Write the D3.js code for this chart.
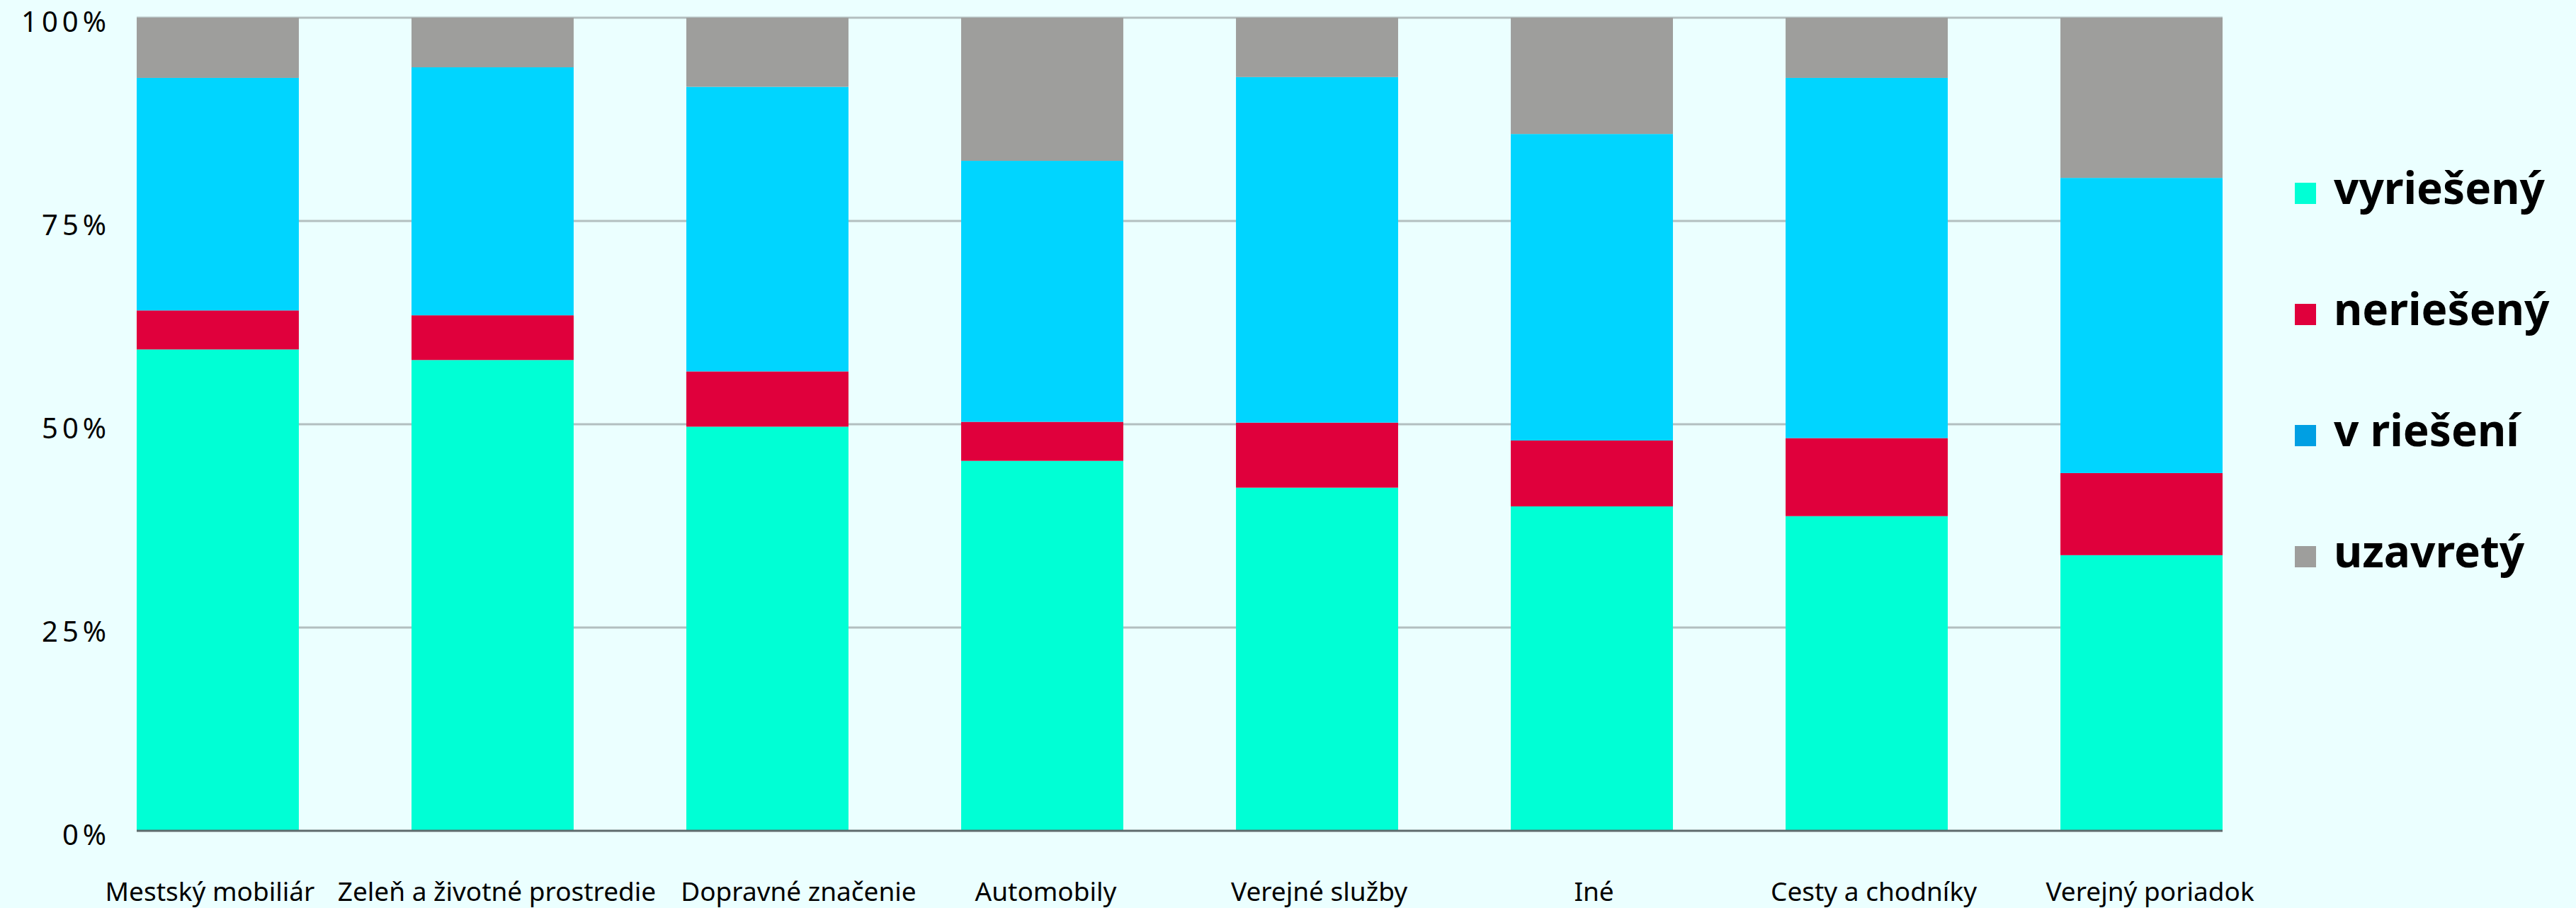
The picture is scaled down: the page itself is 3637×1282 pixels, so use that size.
<!DOCTYPE html>
<html>
<head>
<meta charset="utf-8">
<script src="https://cdn.jsdelivr.net/npm/d3@7"></script>
<style>
  body { margin: 0; background: #ebffff; }
  text { font-family: "Noto Sans", sans-serif; fill: #000; }
</style>
</head>
<body>
<div id="chart"></div>
<script>
// categories and series (percent of each category)
var categories = ["Mestský mobiliár", "Zeleň a životné prostredie", "Dopravné značenie", "Automobily",
                  "Verejné služby", "Iné", "Cesty a chodníky", "Verejný poriadok"];
var vyrieseny = [59.2, 57.9, 49.7, 45.5, 42.2, 39.9, 38.7, 33.9];
var nerieseny = [4.8, 5.5, 6.8, 4.8, 8.0, 8.1, 9.6, 10.1];
var vRieseni  = [28.6, 30.5, 35.0, 32.1, 42.5, 37.7, 44.3, 36.3];
var uzavrety  = [7.4, 6.1, 8.5, 17.6, 7.3, 14.3, 7.4, 19.7];
var seriesNames = ["vyriešený", "neriešený", "v riešení", "uzavretý"];
var yTicks = [0, 25, 50, 75, 100];

var barColors = ["#00ffd5", "#e0003c", "#00d5ff", "#9e9e9c"];
var legendColors = ["#00ffd5", "#e0003c", "#009fe3", "#9e9e9c"];
// the original labels are not all exactly centred under their bars
var labelNudge = [-11, 6, 44, 5, 3, 3, 10, 12];

var W = 3637, H = 1282;
var margin = { top: 25, left: 193, bottom: 109, right: 499 };

var svg = d3.select("#chart").append("svg")
    .attr("width", W)
    .attr("height", H);

svg.append("rect").attr("width", W).attr("height", H).attr("fill", "#ebffff");

var rows = categories.map(function (c, i) {
    return { cat: c, "vyriešený": vyrieseny[i], "neriešený": nerieseny[i],
             "v riešení": vRieseni[i], "uzavretý": uzavrety[i] };
});

// normalise to 100%
var stack = d3.stack().keys(seriesNames).offset(d3.stackOffsetExpand);
var layers = stack(rows);

var x = d3.scaleBand()
    .domain(categories)
    .range([margin.left, W - margin.right])
    .paddingInner(0.41)
    .paddingOuter(0);

var y = d3.scaleLinear()
    .domain([0, 1])
    .range([H - margin.bottom, margin.top]);

// gridlines
svg.append("g")
    .selectAll("line")
    .data(yTicks.filter(function (t) { return t > 0; }))
    .enter()
    .append("line")
    .attr("x1", margin.left)
    .attr("x2", W - margin.right)
    .attr("y1", function (d) { return y(d / 100); })
    .attr("y2", function (d) { return y(d / 100); })
    .attr("stroke", "#b3bfc0")
    .attr("stroke-width", 3);

// bars
svg.append("g")
    .selectAll("g")
    .data(layers)
    .enter()
    .append("g")
    .attr("fill", function (d, i) { return barColors[i]; })
    .selectAll("rect")
    .data(function (d) { return d; })
    .enter()
    .append("rect")
    .attr("x", function (d) { return x(d.data.cat); })
    .attr("y", function (d) { return y(d[1]); })
    .attr("height", function (d) { return y(d[0]) - y(d[1]); })
    .attr("width", x.bandwidth());

// baseline
svg.append("line")
    .attr("x1", margin.left)
    .attr("x2", W - margin.right)
    .attr("y1", y(0))
    .attr("y2", y(0))
    .attr("stroke", "#5f6b6d")
    .attr("stroke-width", 3);

// y axis labels
svg.append("g")
    .selectAll("text")
    .data(yTicks)
    .enter()
    .append("text")
    .attr("x", 156)
    .attr("y", function (d) { return y(d / 100) + 20; })
    .attr("text-anchor", "end")
    .style("font-size", "40px")
    .style("letter-spacing", "6px")
    .text(function (d) { return d + "%"; });

// x axis labels
svg.append("g")
    .selectAll("text")
    .data(categories)
    .enter()
    .append("text")
    .attr("x", function (d, i) { return x(d) + x.bandwidth() / 2 + labelNudge[i]; })
    .attr("y", y(0) + 99)
    .attr("text-anchor", "middle")
    .style("font-size", "37px")
    .text(function (d) { return d; });

// legend
var legend = svg.append("g")
    .selectAll("g")
    .data(seriesNames)
    .enter()
    .append("g")
    .attr("transform", function (d, i) { return "translate(3240," + (288 + i * 171) + ")"; });

legend.append("rect")
    .attr("x", 0)
    .attr("y", -30)
    .attr("width", 30)
    .attr("height", 30)
    .attr("fill", function (d, i) { return legendColors[i]; });

legend.append("text")
    .attr("x", 55)
    .attr("y", 0)
    .style("font-size", "62px")
    .style("font-weight", "bold")
    .text(function (d) { return d; });
</script>
</body>
</html>
